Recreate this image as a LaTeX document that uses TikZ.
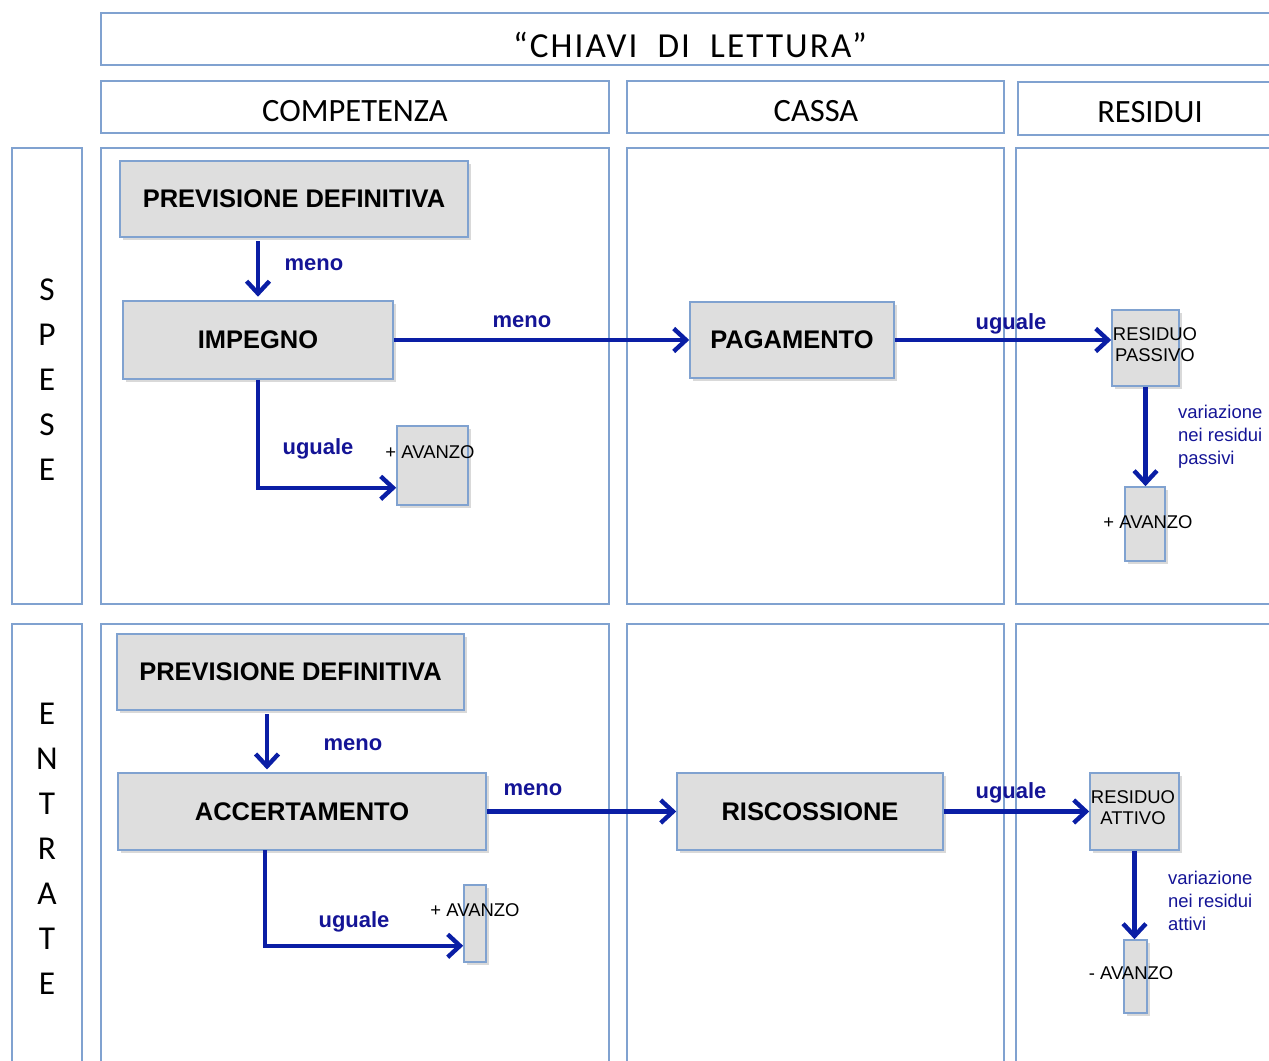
\documentclass[tikz,border=0pt]{standalone}
\usepackage{fontspec}
\setmainfont{Liberation Sans}
\newfontfamily\headfont{Carlito}
\newfontfamily\titlefont[LetterSpace=6]{Carlito}
\usetikzlibrary{arrows.meta,shadows,positioning}

\definecolor{panelline}{RGB}{128,162,208}
\definecolor{boxgray}{RGB}{222,222,222}
\definecolor{flowblue}{RGB}{10,30,165}
\definecolor{labelblue}{RGB}{20,20,150}

\tikzset{
  panel/.style={draw=panelline, line width=1.1pt},
  box/.style={draw=panelline, fill=boxgray, line width=0.9pt, inner sep=0pt,
    drop shadow={shadow xshift=1.5pt, shadow yshift=-1.5pt, opacity=0.3}},
  boxtext/.style={font=\bfseries\fontsize{14.5}{17}\selectfont},
  smalltext/.style={font=\fontsize{10.5}{12}\selectfont, align=center},
  headtext/.style={font=\headfont\fontsize{18.5}{22}\selectfont},
  sidetext/.style={font=\headfont\fontsize{19}{25.6}\selectfont, align=center},
  flow/.style={draw=flowblue, line width=2.5pt, -{Straight Barb[length=7pt,width=13pt]}},
  flowlabel/.style={text=labelblue, font=\bfseries\fontsize{12.5}{15}\selectfont},
  notelabel/.style={text=labelblue, font=\fontsize{10.5}{13}\selectfont, align=left, anchor=north west},
}

\begin{document}
\begin{tikzpicture}[x=0.02cm,y=-0.02cm]
  \useasboundingbox (0,0) rectangle (1269,1061);
  \clip (0,0) rectangle (1269,1061);

  % headers
  \draw[panel] (101,13) rectangle (1290,65);
  \node[font=\titlefont\fontsize{20}{24}\selectfont] (title) at (690,45) {“CHIAVI\ \ DI\ \ LETTURA”};
  \draw[panel] (101,81) rectangle (609,133);
  \draw[panel] (627,81) rectangle (1004,133);
  \draw[panel] (1018,82) rectangle (1290,135);
  \node[headtext] (competenza) at (355,111) {COMPETENZA};
  \node[headtext] (cassa) at (816,111) {CASSA};
  \node[headtext] (residui) at (1150,112) {RESIDUI};

  % panels
  \foreach \ya/\yb in {148/604, 624/1090} {
    \draw[panel] (12,\ya) rectangle (82,\yb);
    \draw[panel] (101,\ya) rectangle (609,\yb);
    \draw[panel] (627,\ya) rectangle (1004,\yb);
    \draw[panel] (1016,\ya) rectangle (1290,\yb);
  }
  \node[sidetext] (spese) at (47,380) {S\\P\\E\\S\\E};
  \node[sidetext] (entrate) at (47,849) {E\\N\\T\\R\\A\\T\\E};

  % spese
  \node[box, boxtext, minimum width=6.96cm, minimum height=1.52cm] (prevS) at (294,199) {PREVISIONE DEFINITIVA};
  \node[box, boxtext, minimum width=5.4cm, minimum height=1.56cm] (impegno) at (258,340) {IMPEGNO};
  \node[box, minimum width=1.42cm, minimum height=1.58cm,
    label={[smalltext, xshift=-0.05cm, yshift=0.27cm]center:{+ AVANZO}}] (avanzoS1) at (432.5,465.5) {};
  \node[box, boxtext, minimum width=4.08cm, minimum height=1.52cm] (pagamento) at (792,340) {PAGAMENTO};
  \node[box, minimum width=1.34cm, minimum height=1.52cm,
    label={[smalltext, xshift=0.19cm, yshift=0.07cm]center:{RESIDUO\\PASSIVO}}] (resPass) at (1145.5,348) {};
  \node[box, minimum width=0.8cm, minimum height=1.48cm,
    label={[smalltext, xshift=0.06cm, yshift=0.04cm]center:{+ AVANZO}}] (avanzoS2) at (1145,524) {};

  \draw[flow, shorten <=2pt, shorten >=2pt] (impegno.north |- prevS.south) -- (impegno.north);
  \draw[flow] (impegno.east) -- (pagamento.west);
  \draw[flow] (pagamento.east) -- (resPass.west |- pagamento.east);
  \draw[flow] (impegno.south) |- ([yshift=0.36cm]avanzoS1.south west);
  \draw[flow] (resPass.south) -- (resPass.south |- avanzoS2.north);

  \node[flowlabel] (menoS1) at (314,265) {meno};
  \node[flowlabel] (menoS2) at (522,322) {meno};
  \node[flowlabel] (ugualeS1) at (1011,324) {uguale};
  \node[flowlabel] (ugualeS2) at (318,449) {uguale};
  \node[notelabel] (varS) at (1172,399) {variazione\\nei residui\\passivi};

  % entrate
  \node[box, boxtext, minimum width=6.94cm, minimum height=1.52cm] (prevE) at (290.5,672) {PREVISIONE DEFINITIVA};
  \node[box, boxtext, minimum width=7.36cm, minimum height=1.54cm] (accert) at (302,811.5) {ACCERTAMENTO};
  \node[box, minimum width=0.44cm, minimum height=1.54cm,
    label={[smalltext, yshift=0.27cm]center:{+ AVANZO}}] (avanzoE1) at (475,923.5) {};
  \node[box, boxtext, minimum width=5.32cm, minimum height=1.54cm] (risc) at (810,811.5) {RISCOSSIONE};
  \node[box, minimum width=1.78cm, minimum height=1.54cm,
    label={[smalltext, xshift=-0.03cm, yshift=0.08cm]center:{RESIDUO\\ATTIVO}}] (resAtt) at (1134.5,811.5) {};
  \node[box, minimum width=0.46cm, minimum height=1.46cm,
    label={[smalltext, xshift=-0.09cm, yshift=0.07cm]center:{- AVANZO}}] (avanzoE2) at (1135.5,976.5) {};

  \coordinate (accin) at (267,773);
  \coordinate (accout) at (265,850);
  \draw[flow, shorten <=2pt, shorten >=2pt] (accin |- prevE.south) -- (accin);
  \draw[flow] (accert.east) -- (risc.west);
  \draw[flow] (risc.east) -- (resAtt.west);
  \draw[flow] (accout) |- ([yshift=0.34cm]avanzoE1.south west);
  \draw[flow] (resAtt.south) -- (resAtt.south |- avanzoE2.north);

  \node[flowlabel] (menoE1) at (353,745) {meno};
  \node[flowlabel] (menoE2) at (533,790) {meno};
  \node[flowlabel] (ugualeE1) at (1011,793) {uguale};
  \node[flowlabel] (ugualeE2) at (354,922) {uguale};
  \node[notelabel] (varE) at (1162,865) {variazione\\nei residui\\attivi};
\end{tikzpicture}
\end{document}
